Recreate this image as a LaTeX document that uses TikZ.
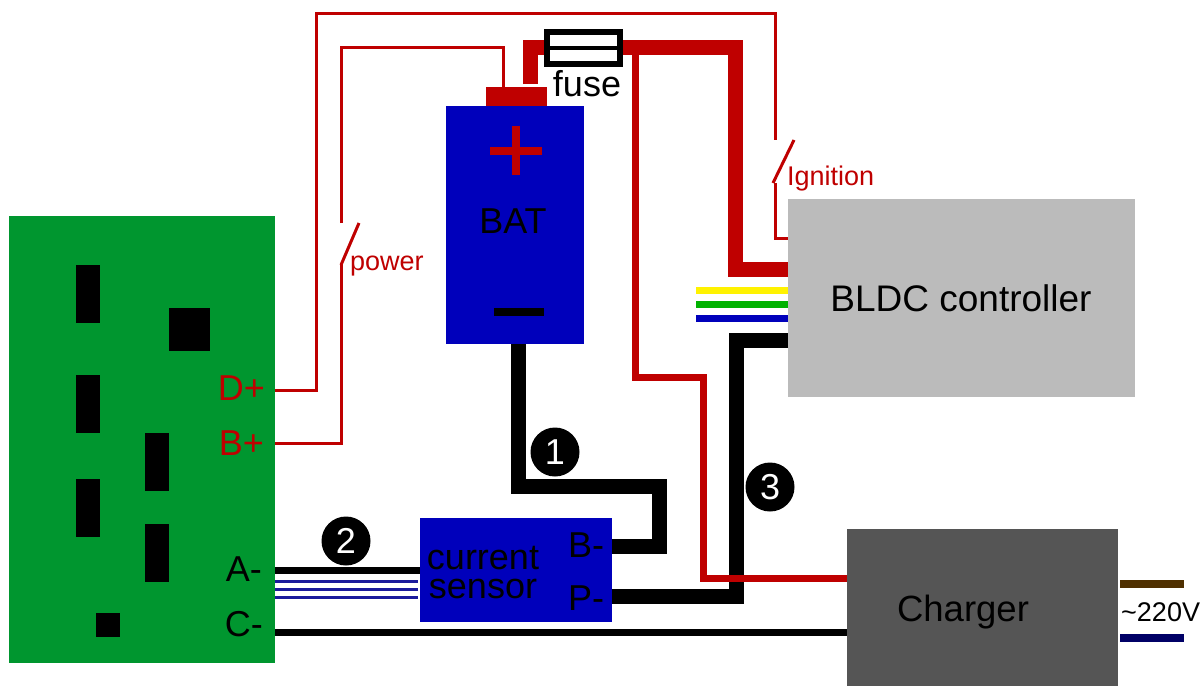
\documentclass[tikz,border=0pt]{standalone}
\usepackage{fontspec}
\setmainfont{Liberation Sans}
\definecolor{pcb}{HTML}{00962F}
\definecolor{batblue}{HTML}{0000BB}
\definecolor{wred}{HTML}{BF0000}
\definecolor{ctrl}{HTML}{BBBBBB}
\definecolor{chg}{HTML}{555555}
\definecolor{acbrown}{HTML}{4F3000}
\definecolor{acnavy}{HTML}{000066}
\definecolor{dblue}{HTML}{1A1A9C}
\tikzset{
  box/.style={draw=none,inner sep=0pt,outer sep=0pt,anchor=north west},
  chip/.style={box,fill=black},
  lbl/.style={inner sep=0pt,font=\fontsize{36}{36}\selectfont},
  redlbl/.style={inner sep=0pt,text=wred,font=\fontsize{27}{27}\selectfont},
  numdot/.style={circle,fill=black,text=white,minimum size=49pt,inner sep=0pt,font=\fontsize{36}{36}\selectfont},
  thin red/.style={draw=wred,line width=3pt,line join=miter},
  mid red/.style={draw=wred,line width=7pt,line join=miter},
  fat red/.style={draw=wred,line width=15pt,line join=miter},
  fat black/.style={draw=black,line width=15pt,line join=miter},
}
\newcommand{\pbox}[6]{\node[box,#6,minimum width=#4pt-#2pt,minimum height=#5pt-#3pt] (#1) at (#2,#3) {};}
\begin{document}
\begin{tikzpicture}[x=1pt,y=-1pt]
\useasboundingbox (0,0) rectangle (1204,686);
% board
\pbox{board}{9}{216}{275}{663}{fill=pcb}
\pbox{c1}{76}{265}{100}{323}{chip}
\pbox{c2}{169}{308}{210}{351}{chip}
\pbox{c3}{76}{375}{100}{433}{chip}
\pbox{c4}{145}{433}{169}{491}{chip}
\pbox{c5}{76}{479}{100}{537}{chip}
\pbox{c6}{145}{524}{169}{582}{chip}
\pbox{c7}{96}{613}{120}{637}{chip}
\node[lbl,text=wred,anchor=east] (dplus) at (265,388) {D+};
\node[lbl,text=wred,anchor=east] (bplus) at (264,443) {B+};
\node[lbl,anchor=east] (aminus) at (262,569) {A-};
\node[lbl,anchor=east] (cminus) at (263,624) {C-};
% main boxes
\pbox{bat}{446}{106}{584}{344}{fill=batblue}
\pbox{cap}{486}{87}{547}{106}{fill=wred}
\pbox{sensor}{420}{518}{612}{622}{fill=batblue}
\pbox{bldc}{788}{199}{1135}{397}{fill=ctrl}
\pbox{charger}{847}{529}{1118}{686}{fill=chg}
% battery marks
\draw[wred,line width=8pt] (490,151) -- (542,151) (516,126) -- (516,175);
\draw[black,line width=8pt] (494,312) -- (544,312);
\node[lbl] (batlbl) at (513,221) {BAT};
\node[lbl,font=\fontsize{37}{37}\selectfont] (bldclbl) at (961,298) {BLDC controller};
\node[lbl,font=\fontsize{36.5}{36.5}\selectfont] (chglbl) at (963,612) {Charger};
\node[lbl,align=center,font=\fontsize{36}{29}\selectfont] (senslbl) at (483,572.5) {current\\sensor};
\node[lbl] (sb) at (586,545) {B-};
\node[lbl] (sp) at (586,598) {P-};
% black power wires
\draw[fat black] (bat.south -| 518,0) -- (518,486) -- (659,486) -- (659,546) -- (sensor.east |- 0,546);
\draw[fat black] (bldc.west |- 0,340) -- (736.5,340) -- (736.5,596) -- (sensor.east |- 0,596);
% fuse and main red wires
\coordinate (fuseL) at (546,47.5);
\coordinate (fuseR) at (620,47.5);
\draw[fat red] (cap.north -| 530,0) ++(0,-3) -- (530,47.5) -- (fuseL);
\draw[fat red] (fuseR) -- (735,47.5) -- (735,269) -- (bldc.west |- 0,269);
\draw[mid red] (635,50) -- (635,377) -- (703,377) -- (703,578) -- (charger.west |- 0,578);
\node[draw=black,line width=6pt,fill=white,minimum width=73pt,minimum height=32pt,inner sep=0pt,outer sep=0pt] (fuse) at (583,47.5) {};
\draw[black,line width=4pt] (fuse.west) -- (fuse.east);
\node[lbl] (fuselbl) at (587,84) {fuse};
% thin control wires
\draw[thin red] (board.east |- 0,390) -- (316,390) -- (316,13) -- (775,13) -- (775,140);
\draw[thin red] (board.east |- 0,443) -- (341,443) -- (341,264);
\draw[thin red] (341,223) -- (341,47) -- (503,47) -- (503,87);
\draw[thin red] (341,265) -- (359,223);
\draw[thin red] (773,183) -- (794,140);
\draw[thin red] (775,183) -- (775,238) -- (bldc.west |- 0,238);
\node[redlbl,anchor=west] (ign) at (787,179) {Ignition};
\node[redlbl,anchor=west] (pow) at (350,266) {power};
% signal wires
\draw[yellow,line width=7.5pt] (696,290.5) -- (bldc.west |- 0,290.5);
\draw[green!70!black,line width=7.5pt] (696,304.5) -- (bldc.west |- 0,304.5);
\draw[batblue,line width=7.5pt] (696,318.5) -- (bldc.west |- 0,318.5);
% sensor bus and charger return
\draw[black,line width=7pt] (board.east |- 0,570.5) -- (sensor.west |- 0,570.5);
\foreach \yy in {581.5,589.5,597.5}
  \draw[dblue,line width=3pt] (board.east |- 0,\yy) -- (418,\yy);
\draw[black,line width=7pt] (board.east |- 0,632) -- (charger.west |- 0,632);
% AC
\draw[acbrown,line width=7.5pt] (1120,584) -- (1184,584);
\draw[acnavy,line width=7.5pt] (1120,638) -- (1184,638);
\node[inner sep=0pt,font=\fontsize{27}{27}\selectfont,anchor=west] (ac) at (1121,612) {\char`\~220V};
% numbers
\node[numdot] (n1) at (555,452) {1};
\node[numdot] (n2) at (346,541) {2};
\node[numdot] (n3) at (770,487) {3};
\end{tikzpicture}
\end{document}
